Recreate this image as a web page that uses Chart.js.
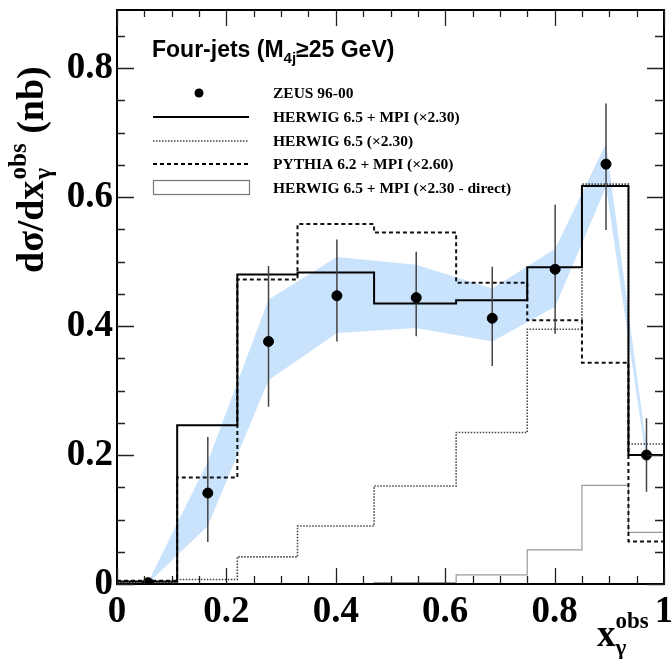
<!DOCTYPE html>
<html>
<head>
<meta charset="utf-8">
<script src="https://cdn.jsdelivr.net/npm/chart.js@4.4.1/dist/chart.umd.min.js"></script>
<style>
  html, body { margin: 0; padding: 0; background: #ffffff; }
  #wrap { width: 671px; height: 659px; }
</style>
</head>
<body>
<div id="wrap"><canvas id="c" width="671" height="659"></canvas></div>
<script>
// Bin edges of x_gamma^obs and the position of each measured point
const binEdges = [0, 0.11, 0.22, 0.33, 0.47, 0.62, 0.75, 0.85, 0.935, 1];
const pointX = [0.057, 0.166, 0.277, 0.402, 0.547, 0.686, 0.801, 0.894, 0.968];

// ZEUS 96-00 measurement (nb) with upper / lower errors
const zeusValue = [0.002, 0.141, 0.376, 0.447, 0.444, 0.412, 0.488, 0.651, 0.200];
const zeusErrUp = [0.000, 0.087, 0.117, 0.087, 0.071, 0.080, 0.100, 0.094, 0.057];
const zeusErrDown = [0.000, 0.076, 0.101, 0.071, 0.060, 0.074, 0.100, 0.102, 0.057];

// Energy-scale uncertainty band
const bandUpper = [0.003, 0.190, 0.441, 0.507, 0.495, 0.458, 0.520, 0.683, 0.212];
const bandLower = [0.001, 0.090, 0.316, 0.389, 0.397, 0.376, 0.430, 0.616, 0.190];

// Monte Carlo predictions per bin (scaled)
const herwigMpi = [0.004, 0.246, 0.480, 0.483, 0.435, 0.440, 0.491, 0.617, 0.200];
const herwigNoMpi = [0.002, 0.007, 0.042, 0.090, 0.152, 0.235, 0.395, 0.620, 0.217];
const pythiaMpi = [0.005, 0.165, 0.472, 0.558, 0.545, 0.467, 0.409, 0.343, 0.066];
const herwigDirect = [0.000, 0.000, 0.000, 0.000, 0.002, 0.014, 0.053, 0.153, 0.080];

// Axis ticks
const xTickValues = [0, 0.2, 0.4, 0.6, 0.8, 1];
const yTickValues = [0, 0.2, 0.4, 0.6, 0.8];
const xRange = [0, 1];
const yRange = [0, 0.89];

const legendLabels = [
  'ZEUS 96-00',
  'HERWIG 6.5 + MPI (\u00d72.30)',
  'HERWIG 6.5 (\u00d72.30)',
  'PYTHIA 6.2 + MPI (\u00d72.60)',
  'HERWIG 6.5 + MPI (\u00d72.30 - direct)'
];

const SERIF = '"Liberation Serif", "DejaVu Serif", serif';
const SANS = '"Liberation Sans", Arial, sans-serif';
const BAND_BLUE = '#c9e3fc';

function histPoints(values) {
  const pts = values.map((v, i) => ({ x: binEdges[i], y: v }));
  pts.push({ x: binEdges[binEdges.length - 1], y: values[values.length - 1] });
  return pts;
}
function errorBarPoints() {
  const pts = [];
  pointX.forEach((x, i) => {
    if (zeusErrUp[i] === 0 && zeusErrDown[i] === 0) return;
    pts.push({ x: x, y: zeusValue[i] - zeusErrDown[i] });
    pts.push({ x: x, y: zeusValue[i] + zeusErrUp[i] });
    pts.push({ x: x, y: null });
  });
  return pts;
}
function fmtTick(v) {
  if (Math.abs(v) < 1e-9) return '0';
  if (Math.abs(v - 1) < 1e-9) return '1';
  return v.toFixed(1);
}

// Frame with inward ticks on all four sides, ROOT style
const framePlugin = {
  id: 'frame',
  afterDatasetsDraw(chart) {
    const { ctx, chartArea: a, scales } = chart;
    const xs = scales.x, ys = scales.y;
    ctx.save();
    ctx.strokeStyle = '#000';
    ctx.lineWidth = 2;
    ctx.strokeRect(a.left, a.top, a.right - a.left, a.bottom - a.top);
    ctx.lineWidth = 1.3;
    ctx.strokeStyle = '#222';
    ctx.beginPath();
    for (let i = 0; i <= 20; i++) {
      const v = xRange[0] + i * 0.05;
      const px = Math.round(xs.getPixelForValue(v)) + 0.5;
      const major = i % 4 === 0;
      ctx.moveTo(px, a.bottom); ctx.lineTo(px, a.bottom - (major ? 16 : 8));
      ctx.moveTo(px, a.top); ctx.lineTo(px, a.top + (major ? 16 : 7));
    }
    for (let i = 0; i * 0.05 <= yRange[1] + 1e-9; i++) {
      const v = i * 0.05;
      const py = Math.round(ys.getPixelForValue(v)) + 0.5;
      const major = i % 4 === 0;
      ctx.moveTo(a.left, py); ctx.lineTo(a.left + (major ? 17 : 8), py);
      ctx.moveTo(a.right, py); ctx.lineTo(a.right - (major ? 17 : 9), py);
    }
    ctx.stroke();
    ctx.restore();
  }
};

// Titles, axis labels and the legend block
const textPlugin = {
  id: 'texts',
  afterDraw(chart) {
    const { ctx, chartArea: a } = chart;
    ctx.save();
    ctx.fillStyle = '#000';
    ctx.textBaseline = 'alphabetic';

    // Panel title
    let x = a.left + 35, y = 57;
    ctx.font = 'bold 23px ' + SANS;
    ctx.fillText('Four-jets (M', x, y);
    x += ctx.measureText('Four-jets (M').width;
    ctx.font = 'bold 15px ' + SANS;
    ctx.fillText('4j', x, y + 6);
    x += ctx.measureText('4j').width;
    ctx.font = 'bold 23px ' + SANS;
    ctx.fillText('\u226525 GeV)', x, y);

    // Legend
    const rows = [93, 117, 141, 164, 188];
    const symL = a.left + 36, symR = a.left + 132, textX = a.left + 156;
    ctx.font = 'bold 15.5px ' + SERIF;
    rows.forEach((ry, i) => ctx.fillText(legendLabels[i], textX, ry + 5));
    ctx.beginPath();
    ctx.arc((symL + symR) / 2 - 2, rows[0], 4.5, 0, Math.PI * 2);
    ctx.fill();
    ctx.lineCap = 'butt';
    ctx.strokeStyle = '#000';
    ctx.lineWidth = 2;
    ctx.beginPath(); ctx.moveTo(symL, rows[1]); ctx.lineTo(symR, rows[1]); ctx.stroke();
    ctx.strokeStyle = '#444';
    ctx.lineWidth = 1.5;
    ctx.setLineDash([1.5, 1.5]);
    ctx.beginPath(); ctx.moveTo(symL, rows[2]); ctx.lineTo(symR, rows[2]); ctx.stroke();
    ctx.strokeStyle = '#000';
    ctx.lineWidth = 2;
    ctx.setLineDash([4, 3]);
    ctx.beginPath(); ctx.moveTo(symL, rows[3]); ctx.lineTo(symR, rows[3]); ctx.stroke();
    ctx.setLineDash([]);
    ctx.strokeStyle = '#777';
    ctx.lineWidth = 1.2;
    ctx.strokeRect(symL + 0.5, rows[4] - 7.5, symR - symL, 14);

    // y-axis title, rotated
    ctx.save();
    ctx.translate(43, 273);
    ctx.rotate(-Math.PI / 2);
    let tx = 0;
    ctx.font = 'bold 38px ' + SERIF;
    ctx.fillText('d\u03c3/dx', tx, 0);
    tx += ctx.measureText('d\u03c3/dx').width;
    ctx.font = 'bold 25px ' + SERIF;
    ctx.fillText('\u03b3', tx + 1, 8);
    ctx.fillText('obs', tx + 1, -17);
    tx += ctx.measureText('obs').width + 1;
    ctx.font = 'bold 38px ' + SERIF;
    ctx.fillText(' (nb)', tx, 0);
    ctx.restore();

    // x-axis title
    ctx.font = 'bold 37px ' + SERIF;
    const xt = 597, yt = 646;
    ctx.fillText('x', xt, yt);
    const xw = ctx.measureText('x').width;
    ctx.font = 'bold 23px ' + SERIF;
    ctx.fillText('obs', xt + xw, yt - 18);
    ctx.fillText('\u03b3', xt + xw, yt + 9);
    ctx.restore();
  }
};

const ctx = document.getElementById('c').getContext('2d');
new Chart(ctx, {
  type: 'scatter',
  data: {
    datasets: [
      {
        label: 'ZEUS 96-00',
        data: pointX.map((x, i) => ({ x: x, y: zeusValue[i] })),
        backgroundColor: '#000', borderColor: '#000',
        pointRadius: 5, pointHoverRadius: 5, showLine: false, order: 0
      },
      {
        label: 'errors',
        data: errorBarPoints(),
        showLine: true, spanGaps: false, pointRadius: 0,
        borderColor: '#444', borderWidth: 1.5, order: 1
      },
      {
        label: 'HERWIG 6.5 + MPI',
        data: histPoints(herwigMpi),
        showLine: true, stepped: 'before', pointRadius: 0,
        borderColor: '#000', borderWidth: 2, order: 2
      },
      {
        label: 'PYTHIA 6.2 + MPI',
        data: histPoints(pythiaMpi),
        showLine: true, stepped: 'before', pointRadius: 0,
        borderColor: '#111', borderWidth: 2, borderDash: [4, 3], order: 3
      },
      {
        label: 'HERWIG 6.5',
        data: histPoints(herwigNoMpi),
        showLine: true, stepped: 'before', pointRadius: 0,
        borderColor: '#444', borderWidth: 1.6, borderDash: [1.5, 1.5], order: 4
      },
      {
        label: 'HERWIG 6.5 + MPI direct',
        data: histPoints(herwigDirect),
        showLine: true, stepped: 'before', pointRadius: 0,
        borderColor: '#9a9a9a', borderWidth: 1.2, order: 5
      },
      {
        label: 'band upper',
        data: pointX.map((x, i) => ({ x: x, y: bandUpper[i] })),
        showLine: true, pointRadius: 0, borderWidth: 0, borderColor: 'rgba(0,0,0,0)',
        backgroundColor: BAND_BLUE, fill: '+1', order: 9
      },
      {
        label: 'band lower',
        data: pointX.map((x, i) => ({ x: x, y: bandLower[i] })),
        showLine: true, pointRadius: 0, borderWidth: 0, borderColor: 'rgba(0,0,0,0)',
        fill: false, order: 10
      }
    ]
  },
  options: {
    responsive: false,
    animation: false,
    devicePixelRatio: 1,
    layout: { padding: { top: 10, right: 7, left: 0, bottom: 0 } },
    plugins: { legend: { display: false }, tooltip: { enabled: false } },
    elements: { line: { tension: 0 } },
    scales: {
      x: {
        type: 'linear', min: xRange[0], max: xRange[1],
        grid: { display: false, drawTicks: false },
        border: { display: false },
        afterFit: s => { s.height = 75; s.paddingLeft = 0; s.paddingRight = 0; },
        afterBuildTicks: s => { s.ticks = xTickValues.map(v => ({ value: v })); },
        ticks: {
          padding: 6, color: '#000', maxRotation: 0, autoSkip: false,
          font: { family: SERIF, size: 37, weight: 'bold' },
          callback: v => fmtTick(v)
        }
      },
      y: {
        type: 'linear', min: yRange[0], max: yRange[1],
        grid: { display: false, drawTicks: false },
        border: { display: false },
        afterFit: s => { s.width = 117; s.paddingTop = 0; s.paddingBottom = 0; },
        afterBuildTicks: s => { s.ticks = yTickValues.map(v => ({ value: v })); },
        ticks: {
          padding: 4, color: '#000', autoSkip: false,
          font: { family: SERIF, size: 37, weight: 'bold' },
          callback: v => fmtTick(v)
        }
      }
    }
  },
  plugins: [framePlugin, textPlugin]
});
</script>
</body>
</html>
